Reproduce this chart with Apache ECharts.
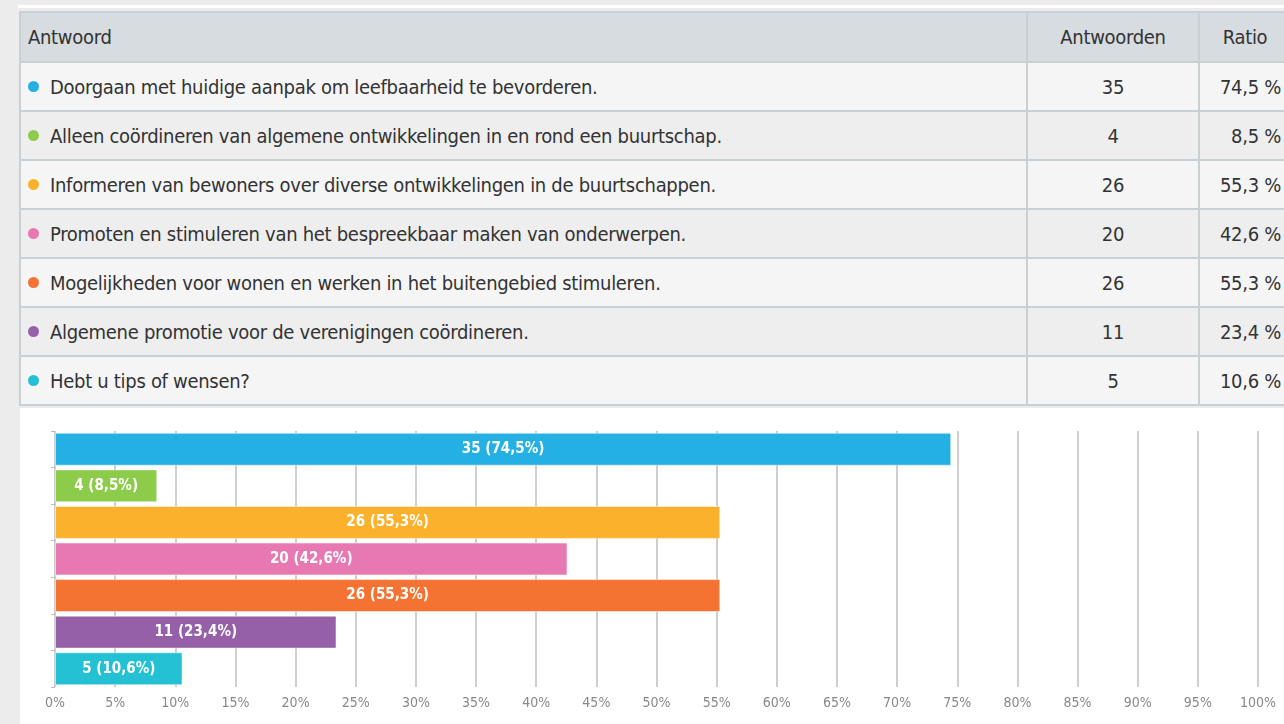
<!DOCTYPE html>
<html>
<head>
<meta charset="utf-8">
<script src="https://cdn.jsdelivr.net/npm/echarts@6/dist/echarts.min.js"></script>
<style>
  html, body { margin: 0; padding: 0; }
  body { width: 1284px; height: 724px; background: #ececec; overflow: hidden; position: relative;
         font-family: "DejaVu Sans Condensed", "Roboto", sans-serif; color: #333; }
  #topline { position: absolute; left: 18px; top: 5px; width: 1266px; height: 3px; background: #fff; }
  #tbl { position: absolute; left: 19px; top: 11px; border-collapse: collapse; table-layout: fixed; width: 1273px; }
  #tbl td, #tbl th { border: 2px solid #c9d0d3; height: 47px; font-size: 20px; letter-spacing: -0.3px;
                     font-weight: normal; padding: 0; white-space: nowrap; }
  #tbl th { background: #d6dcdf; height: 48px; }
  #tbl th.a, #tbl td.a { text-align: left; padding-left: 7px; }
  #tbl .n { width: 170px; text-align: center; }
  #tbl .r { width: 90px; text-align: right; padding-right: 9px; }
  #tbl th.r { text-align: center; padding-right: 0; }
  #tbl tr.odd td { background: #f5f5f5; }
  #tbl tr.even td { background: #eeeeee; }
  .dot { display: inline-block; width: 11px; height: 11px; border-radius: 50%; margin-right: 11px; vertical-align: 2px; }
  #chart { position: absolute; left: 20px; top: 408px; width: 1264px; height: 316px; background: #fff; }
</style>
</head>
<body>
<div id="topline"></div>
<table id="tbl"><thead><tr><th class="a">Antwoord</th><th class="n">Antwoorden</th><th class="r">Ratio</th></tr></thead><tbody id="tb"></tbody></table>
<div id="chart"></div>
<script>
var categories = [
  'Doorgaan met huidige aanpak om leefbaarheid te bevorderen.',
  'Alleen coördineren van algemene ontwikkelingen in en rond een buurtschap.',
  'Informeren van bewoners over diverse ontwikkelingen in de buurtschappen.',
  'Promoten en stimuleren van het bespreekbaar maken van onderwerpen.',
  'Mogelijkheden voor wonen en werken in het buitengebied stimuleren.',
  'Algemene promotie voor de verenigingen coördineren.',
  'Hebt u tips of wensen?'
];
var counts = [35, 4, 26, 20, 26, 11, 5];
var ratios = [74.5, 8.5, 55.3, 42.6, 55.3, 23.4, 10.6];
var colors = ['#25b0e4', '#8dcb4b', '#fbb12b', '#e878b1', '#f47232', '#9660a9', '#23c1d3'];
var tickLabels = ['0%', '5%', '10%', '15%', '20%', '25%', '30%', '35%', '40%', '45%', '50%',
  '55%', '60%', '65%', '70%', '75%', '80%', '85%', '90%', '95%', '100%'];

function fmt(v) { return String(v.toFixed(1)).replace('.', ','); }

// tabel
var tb = document.getElementById('tb');
categories.forEach(function (c, i) {
  var tr = document.createElement('tr');
  tr.className = i % 2 === 0 ? 'odd' : 'even';
  tr.innerHTML = '<td class="a"><span class="dot" style="background:' + colors[i] + '"></span>' + c + '</td>' +
    '<td class="n">' + counts[i] + '</td><td class="r">' + fmt(ratios[i]) + ' %</td>';
  tb.appendChild(tr);
});

// grafiek
var myChart = echarts.init(document.getElementById('chart'));
myChart.setOption({
  animation: false,
  textStyle: { fontFamily: 'DejaVu Sans Condensed' },
  grid: { left: 35, right: 26, top: 23, bottom: 37 },
  xAxis: {
    type: 'value', min: 0, max: 100, interval: 5,
    axisLine: { show: false },
    axisTick: { show: false },
    splitLine: { show: true, lineStyle: { color: '#cfcfcf', width: 2 } },
    axisLabel: {
      color: '#888', fontSize: 14, margin: 9,
      formatter: function (v) { return tickLabels[Math.round(v / 5)]; }
    }
  },
  yAxis: {
    type: 'category', inverse: true, data: categories,
    axisLine: { show: false },
    axisTick: { show: true, length: 4, lineStyle: { color: '#bbb' } },
    axisLabel: { show: false }
  },
  series: [{
    type: 'bar',
    barCategoryGap: '10%',
    data: ratios.map(function (v, i) {
      return { value: v, itemStyle: { color: colors[i] } };
    }),
    itemStyle: { borderColor: 'rgba(255,255,255,0.5)', borderWidth: 1 },
    label: {
      show: true, position: 'inside', color: '#fff', fontSize: 15, fontWeight: 'bold',
      formatter: function (p) { return counts[p.dataIndex] + ' (' + fmt(p.value) + '%)'; }
    }
  }]
});
</script>
</body>
</html>
